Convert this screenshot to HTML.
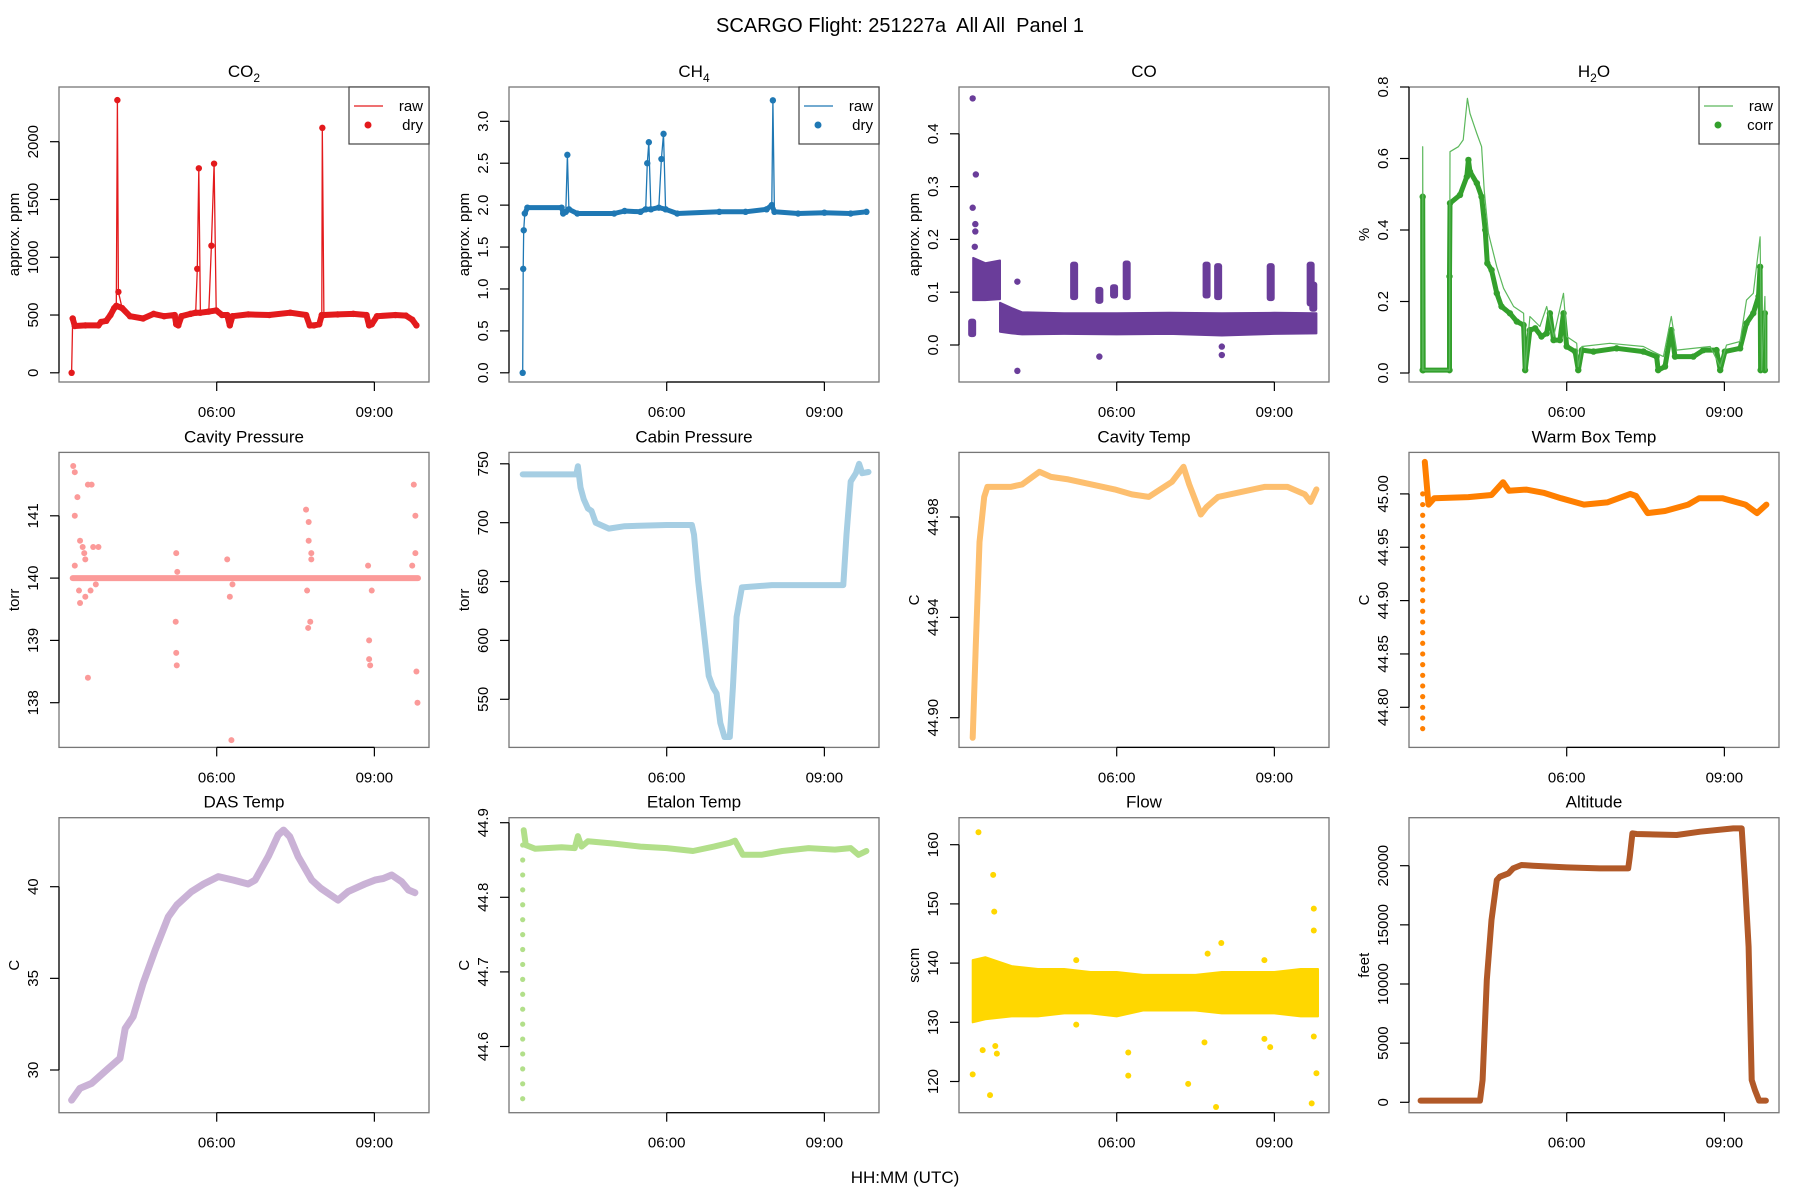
<!DOCTYPE html>
<html><head><meta charset="utf-8"><title>SCARGO Flight Panel 1</title>
<style>
html,body{margin:0;padding:0;background:#fff;}
svg{display:block;font-family:"Liberation Sans",Arial,sans-serif;}
</style></head>
<body>
<svg id="chart" xmlns="http://www.w3.org/2000/svg" width="1800" height="1200" viewBox="0 0 1800 1200">
<rect x="0" y="0" width="1800" height="1200" fill="#fff"/>
<text x="900" y="32" font-size="20" text-anchor="middle" style="white-space:pre" xml:space="preserve">SCARGO Flight: 251227a  All All  Panel 1</text>
<text x="905" y="1183" font-size="17" text-anchor="middle">HH:MM (UTC)</text>
</svg>
<script>
// ---------- data ----------
const xTickLabels = ["06:00","09:00"];
const xTickHours = [6,9];

const co2T = [3.24,3.26,3.3,3.5,3.75,3.8,3.9,3.98,4.05,4.09,4.11,4.13,4.2,4.35,4.6,4.8,5.0,5.2,5.23,5.27,5.33,5.5,5.6,5.63,5.66,5.69,5.85,5.9,5.95,5.99,6.1,6.2,6.25,6.3,6.6,7.0,7.4,7.7,7.77,7.85,7.95,8.0,8.01,8.04,8.3,8.6,8.85,8.9,8.95,9.05,9.4,9.6,9.72,9.8];
const co2V = [0,470,405,410,410,440,450,500,560,580,2360,700,560,490,470,510,490,500,420,410,490,510,520,900,1770,520,530,1100,1810,540,500,500,410,490,505,500,520,500,410,410,420,500,2120,500,505,510,500,410,420,490,500,495,460,410];

const ch4T = [3.26,3.27,3.28,3.3,3.35,4.0,4.03,4.08,4.11,4.14,4.3,5.0,5.2,5.5,5.6,5.63,5.66,5.7,5.85,5.9,5.94,5.98,6.2,7.0,7.5,7.9,8.0,8.02,8.05,8.5,9.0,9.5,9.8];
const ch4V = [0,1.24,1.7,1.9,1.97,1.97,1.9,1.92,2.6,1.95,1.9,1.9,1.93,1.92,1.95,2.5,2.75,1.95,1.97,2.55,2.85,1.95,1.9,1.92,1.92,1.95,2.0,3.25,1.92,1.9,1.91,1.9,1.92];

const coBandT = [3.78,4.0,4.2,5.0,6.0,7.0,8.0,9.0,9.8];
const coBandLo = [0.025,0.022,0.02,0.021,0.02,0.021,0.018,0.021,0.022];
const coBandHi = [0.08,0.07,0.062,0.06,0.06,0.061,0.06,0.061,0.06];
const coEarlyT = [3.27,3.5,3.78];
const coEarlyLo = [0.085,0.085,0.087];
const coEarlyHi = [0.165,0.155,0.16];
const coBlockT = [3.25,5.19,5.67,5.95,6.19,7.71,7.93,8.93,9.69,9.74];
const coBlockLo = [0.015,0.085,0.078,0.088,0.085,0.088,0.085,0.083,0.073,0.063];
const coBlockHi = [0.05,0.158,0.11,0.115,0.16,0.158,0.155,0.155,0.158,0.12];
const coOutT = [3.26,3.32,3.26,3.31,3.31,3.3,4.11,4.11,5.67,8.0,8.0,5.95];
const coOutV = [0.467,0.323,0.26,0.229,0.215,0.186,0.12,-0.049,-0.022,-0.019,-0.003,0.1];

const h2oCorrT = [3.26,3.26,3.27,3.77,3.77,3.78,3.97,4.10,4.13,4.16,4.29,4.38,4.45,4.49,4.57,4.67,4.76,4.92,5.05,5.18,5.21,5.30,5.40,5.52,5.62,5.68,5.75,5.87,5.94,6.00,6.16,6.22,6.29,6.51,6.95,7.46,7.71,7.74,7.87,7.99,8.06,8.41,8.60,8.85,8.92,9.01,9.30,9.42,9.55,9.65,9.68,9.69,9.77,9.77];
const h2oCorrV = [0.008,0.493,0.008,0.008,0.27,0.475,0.498,0.549,0.596,0.563,0.531,0.493,0.40,0.307,0.288,0.223,0.186,0.167,0.144,0.134,0.008,0.12,0.125,0.102,0.111,0.167,0.092,0.092,0.167,0.074,0.06,0.008,0.064,0.06,0.069,0.06,0.046,0.008,0.018,0.12,0.046,0.046,0.064,0.064,0.008,0.06,0.069,0.139,0.167,0.214,0.297,0.008,0.167,0.008];
const h2oRawT = [3.26,3.26,3.27,3.77,3.78,3.94,4.03,4.11,4.16,4.29,4.38,4.43,4.51,4.67,4.80,4.99,5.18,5.21,5.30,5.49,5.62,5.75,5.94,6.00,6.19,6.22,6.29,6.82,7.46,7.71,7.84,7.99,8.09,8.73,8.92,9.04,9.30,9.42,9.55,9.68,9.71,9.77,9.79];
const h2oRawV = [0.008,0.633,0.008,0.008,0.619,0.633,0.652,0.768,0.726,0.67,0.633,0.512,0.391,0.297,0.237,0.186,0.167,0.008,0.158,0.13,0.186,0.102,0.223,0.102,0.083,0.018,0.074,0.083,0.074,0.055,0.046,0.158,0.064,0.074,0.018,0.078,0.088,0.204,0.223,0.381,0.008,0.214,0.008];

const cavPLineT = [3.26,9.83];
const cavPLineV = [140.0,140.0];
const cavPOutT = [3.27,3.3,3.35,3.3,3.4,3.45,3.5,3.55,3.62,3.65,3.4,3.5,3.6,3.55,3.7,3.75,3.3,3.38,3.48,5.23,5.22,5.23,5.24,5.25,6.2,6.25,6.28,6.3,7.7,7.75,7.75,7.8,7.72,7.78,7.74,7.8,8.88,8.9,8.92,8.95,8.9,9.75,9.78,9.72,9.8,9.82,9.78];
const cavPOutV = [141.8,141.7,141.3,141.0,140.6,140.5,140.3,141.5,141.5,140.5,139.6,139.7,139.8,138.4,139.9,140.5,140.2,139.8,140.4,140.4,139.3,138.8,138.6,140.1,140.3,139.7,137.4,139.9,141.1,140.9,140.6,140.3,139.8,139.3,139.2,140.4,140.2,139.0,138.6,139.8,138.7,141.5,141.0,140.2,138.5,138.0,140.4];

const cabinT = [3.26,4.28,4.31,4.36,4.42,4.5,4.57,4.65,4.9,5.2,6.0,6.48,6.52,6.6,6.7,6.8,6.88,6.95,7.02,7.1,7.2,7.26,7.33,7.43,8.0,9.0,9.36,9.42,9.5,9.6,9.66,9.72,9.84];
const cabinV = [741,741,748,730,720,712,710,700,695,697,698,698,690,650,610,570,560,555,530,518,518,560,620,645,647,647,647,690,735,742,750,742,743];

const cavTT = [3.26,3.32,3.39,3.48,3.54,3.98,4.20,4.53,4.75,5.08,5.52,5.96,6.29,6.61,6.83,7.05,7.27,7.38,7.60,7.71,7.93,8.37,8.81,9.25,9.58,9.69,9.80];
const cavTV = [44.892,44.929,44.970,44.988,44.992,44.992,44.993,44.998,44.996,44.995,44.993,44.991,44.989,44.988,44.991,44.994,45.000,44.993,44.981,44.984,44.988,44.990,44.992,44.992,44.989,44.986,44.991];

const warmT = [3.30,3.37,3.48,4.13,4.57,4.79,4.90,5.23,5.56,5.89,6.33,6.77,7.21,7.32,7.54,7.87,8.31,8.52,8.96,9.40,9.62,9.80];
const warmV = [45.03,44.99,44.996,44.997,44.999,45.011,45.003,45.004,45.001,44.996,44.99,44.992,45.0,44.998,44.982,44.984,44.990,44.996,44.996,44.990,44.982,44.990];
const warmStartV = [44.78,44.79,44.80,44.81,44.82,44.83,44.84,44.85,44.86,44.87,44.88,44.89,44.90,44.91,44.92,44.93,44.94,44.95,44.96,44.97,44.98,44.99,45.0];

const dasT = [3.24,3.40,3.62,3.94,4.16,4.26,4.41,4.60,4.83,5.08,5.24,5.52,5.75,6.03,6.32,6.60,6.73,6.98,7.17,7.27,7.39,7.55,7.81,7.98,8.31,8.50,8.82,9.01,9.17,9.33,9.52,9.65,9.77];
const dasV = [28.36,29.0,29.27,30.09,30.64,32.27,32.91,34.73,36.55,38.36,39.0,39.73,40.15,40.55,40.36,40.15,40.36,41.64,42.82,43.09,42.73,41.64,40.36,39.91,39.27,39.73,40.15,40.36,40.45,40.64,40.27,39.82,39.67];

const etalonT = [3.28,3.32,3.5,4.0,4.25,4.31,4.38,4.5,5.0,5.5,6.0,6.5,6.9,7.2,7.3,7.45,7.8,8.2,8.7,9.2,9.5,9.65,9.8];
const etalonV = [44.89,44.87,44.865,44.867,44.866,44.882,44.868,44.875,44.872,44.868,44.866,44.862,44.868,44.873,44.876,44.857,44.857,44.862,44.866,44.864,44.866,44.857,44.862];
const etalonStartV = [44.53,44.55,44.57,44.59,44.61,44.63,44.65,44.67,44.69,44.71,44.73,44.75,44.77,44.79,44.81,44.83,44.85,44.87];

const flowBandT = [3.26,3.5,4.0,4.5,5.0,5.5,6.0,6.5,7.0,7.5,8.0,8.5,9.0,9.5,9.83];
const flowBandLo = [130,130.5,131,131,131.5,131.5,131,132,132,132,131.5,131.5,131.5,131,131];
const flowBandHi = [140.5,141,139.5,139,139,138.5,138.5,138,138,138,138.5,138.5,138.5,139,139];
const flowOutT = [3.37,3.65,3.67,3.45,3.69,3.72,3.59,3.26,5.23,5.23,6.22,6.22,7.36,7.67,7.89,7.73,7.99,8.81,8.92,8.81,9.75,9.75,9.75,9.8,9.71];
const flowOutV = [162.1,154.9,148.7,125.3,126,124.7,117.7,121.2,140.5,129.6,124.9,121,119.6,126.6,115.7,141.6,143.4,140.5,125.8,127.2,149.2,145.5,127.6,121.4,116.3];

const altT = [3.22,4.35,4.40,4.48,4.57,4.67,4.73,4.89,4.98,5.14,5.36,6.0,6.63,7.17,7.20,7.25,7.33,8.09,8.54,9.17,9.33,9.39,9.46,9.52,9.58,9.66,9.79];
const altV = [141,141,1887,10338,15409,18789,19071,19353,19775,20057,20000,19860,19775,19775,20761,22733,22677,22592,22874,23156,23156,18789,13155,1887,1042,141,141];

const co2Ticks = [0,500,1000,1500,2000];
const ch4Ticks = [0,0.5,1,1.5,2,2.5,3];
const coTicks = [0,0.1,0.2,0.3,0.4];
const h2oTicks = [0,0.2,0.4,0.6,0.8];
const cavPTicks = [138,139,140,141];
const cabinTicks = [550,600,650,700,750];
const cavTTicks = [44.90,44.94,44.98];
const warmTicks = [44.80,44.85,44.90,44.95,45.00];
const dasTicks = [30,35,40];
const etalonTicks = [44.6,44.7,44.8,44.9];
const flowTicks = [120,130,140,150,160];
const altTicks = [0,5000,10000,15000,20000];

// ---------- drawing ----------
const NS = "http://www.w3.org/2000/svg";
const svg = document.getElementById("chart");
const COL = [59,509,959,1409], ROW = [87,452.4,817.7], PW = 370, PH = 295;

function mk(tag, attrs, parent){
  const e = document.createElementNS(NS, tag);
  for (const k in attrs) e.setAttribute(k, attrs[k]);
  (parent||svg).appendChild(e);
  return e;
}
function xScale(c){ return t => COL[c] + 157.7 + (t-6)*52.56; }
function yScale(v0,y0,v1,y1){ return v => y0 + (v-v0)*(y1-y0)/(v1-v0); }
function fmt(v, d){ return d==null ? String(v) : v.toFixed(d); }

function panel(c, r, title, sub, after, ylab, ticks, dec, ys, name){
  const g = mk("g", {});
  
  
  const L = COL[c], T = ROW[r];
  const box = mk("rect", {x:L, y:T, width:PW, height:PH, fill:"none", stroke:"#777", "stroke-width":1.3}, g);
  
  
  const tt = mk("text", {x:L+PW/2, y:T-10, "font-size":17, "text-anchor":"middle"}, g);
  
  
  tt.appendChild(document.createTextNode(title));
  if (sub){
    const ts = mk("tspan", {"font-size":12, dy:5}, tt);
    ts.textContent = sub;
    if (after){
      const ta = mk("tspan", {dy:-5}, tt);
      ta.textContent = after;
    }
  }
  const xs = xScale(c);
  const xa = mk("line", {x1:xs(xTickHours[0]), x2:xs(xTickHours[xTickHours.length-1]), y1:T+PH, y2:T+PH, stroke:"#000", "stroke-width":1.2}, g);
  
  
  xTickHours.forEach((h,i)=>{
    mk("line", {x1:xs(h), x2:xs(h), y1:T+PH, y2:T+PH+9, stroke:"#000", "stroke-width":1.2}, g);
    const lb = mk("text", {x:xs(h), y:T+PH+35, "font-size":15, "text-anchor":"middle"}, g);
    
    
    lb.textContent = xTickLabels[i];
  });
  const ya = mk("line", {x1:L, x2:L, y1:ys(ticks[0]), y2:ys(ticks[ticks.length-1]), stroke:"#000", "stroke-width":1.2}, g);
  
  
  ticks.forEach(v=>{
    const y = ys(v);
    mk("line", {x1:L-9, x2:L, y1:y, y2:y, stroke:"#000", "stroke-width":1.2}, g);
    const lb = mk("text", {x:L-21, y:y, "font-size":15, "text-anchor":"middle", transform:`rotate(-90 ${L-21} ${y})`}, g);
    
    
    lb.textContent = fmt(v, dec);
  });
  const yl = mk("text", {x:L-40, y:T+PH/2, "font-size":15, "text-anchor":"middle", transform:`rotate(-90 ${L-40} ${T+PH/2})`}, g);
  
  
  yl.textContent = ylab;
  return {g, xs, ys};
}
function line(p, T, V, color, w, name){
  const d = T.map((t,i)=>(i?"L":"M")+p.xs(t).toFixed(1)+" "+p.ys(V[i]).toFixed(1)).join(" ");
  const e = mk("path", {d, fill:"none", stroke:color, "stroke-width":w, "stroke-linejoin":"round", "stroke-linecap":"round"}, p.g);
  
  
  return e;
}
function dots(p, T, V, color, r, name){
  T.forEach((t,i)=>{
    const e = mk("circle", {cx:p.xs(t), cy:p.ys(V[i]), r, fill:color}, p.g);
    
    
  });
}
function band(p, T, lo, hi, color, name){
  const up = T.map((t,i)=>p.xs(t).toFixed(1)+","+p.ys(hi[i]).toFixed(1));
  const dn = T.map((t,i)=>p.xs(t).toFixed(1)+","+p.ys(lo[i]).toFixed(1)).reverse();
  const e = mk("polygon", {points:up.concat(dn).join(" "), fill:color, stroke:color, "stroke-width":2, "stroke-linejoin":"round"}, p.g);
  
  
}
function blocks(p, T, lo, hi, color, name){
  T.forEach((t,i)=>{
    const y1 = p.ys(hi[i]), y2 = p.ys(lo[i]);
    const e = mk("rect", {x:p.xs(t)-4, y:Math.min(y1,y2), width:8, height:Math.abs(y2-y1), rx:3, fill:color}, p.g);
    
    
  });
}
function legend(p, c, l1, l2, color, lineColor){
  const L = COL[c]+PW-80, T = ROW[0];
  const lg = mk("g", {}, p.g);
  
  
  mk("rect", {x:L, y:T, width:80, height:57, fill:"#fff", stroke:"#444", "stroke-width":1.2}, lg);
  mk("line", {x1:L+5, x2:L+34, y1:T+19, y2:T+19, stroke:lineColor, "stroke-width":1.3}, lg);
  mk("circle", {cx:L+19, cy:T+38, r:3.5, fill:color}, lg);
  const a = mk("text", {x:L+74, y:T+24, "font-size":15, "text-anchor":"end"}, lg);
  
  
  a.textContent = l1;
  const b = mk("text", {x:L+74, y:T+43, "font-size":15, "text-anchor":"end"}, lg);
  
  
  b.textContent = l2;
}

// CO2
let p = panel(0,0,"CO","2",null,"approx. ppm",co2Ticks,null,yScale(0,372.8,2000,141.7),"co2");
line(p, co2T, co2V, "#e31a1c", 1.3, "co2-raw-line");
dots(p, co2T, co2V, "#e31a1c", 3.2, "co2-dry-point");
(function(){
  const T=[],V=[]; co2T.forEach((t,i)=>{ if(co2V[i]<650 && co2V[i]>300){T.push(t);V.push(co2V[i]);} });
  line(p, T, V, "#e31a1c", 6, "co2-dry-series");
})();
legend(p, 0, "raw", "dry", "#e31a1c", "#e31a1c");

// CH4
p = panel(1,0,"CH","4",null,"approx. ppm",ch4Ticks,1,yScale(0,372.8,3,121.3),"ch4");
line(p, ch4T, ch4V, "#1f78b4", 1.3, "ch4-raw-line");
dots(p, ch4T, ch4V, "#1f78b4", 3.2, "ch4-dry-point");
(function(){
  const T=[],V=[]; ch4T.forEach((t,i)=>{ if(ch4V[i]<2.1 && ch4V[i]>1.85){T.push(t);V.push(ch4V[i]);} });
  line(p, T, V, "#1f78b4", 5, "ch4-dry-series");
})();
legend(p, 1, "raw", "dry", "#1f78b4", "#1f78b4");

// CO
p = panel(2,0,"CO",null,null,"approx. ppm",coTicks,1,yScale(0,345,0.4,133.8),"co");
band(p, coBandT, coBandLo, coBandHi, "#6a3d9a", "co-band");
band(p, coEarlyT, coEarlyLo, coEarlyHi, "#6a3d9a", "co-early-band");
blocks(p, coBlockT, coBlockLo, coBlockHi, "#6a3d9a", "co-spike-block");
dots(p, coOutT, coOutV, "#6a3d9a", 3.2, "co-point");

// H2O
p = panel(3,0,"H","2","O","%",h2oTicks,1,yScale(0,373,0.8,87),"h2o");
line(p, h2oCorrT, h2oCorrV, "#33a02c", 5, "h2o-corr-series");
dots(p, h2oCorrT, h2oCorrV, "#33a02c", 3.2, "h2o-corr-point");
line(p, h2oRawT, h2oRawV, "#5cb85c", 1.2, "h2o-raw-line");
legend(p, 3, "raw", "corr", "#33a02c", "#5cb85c");

// Cavity pressure
p = panel(0,1,"Cavity Pressure",null,null,"torr",cavPTicks,null,yScale(138,702.7,141,515.8),"cavity-pressure");
line(p, cavPLineT, cavPLineV, "#fb9a99", 6, "cavity-pressure-series");
dots(p, cavPOutT, cavPOutV, "#fb9a99", 3, "cavity-pressure-point");

// Cabin pressure
p = panel(1,1,"Cabin Pressure",null,null,"torr",cabinTicks,null,yScale(550,699.3,750,463.8),"cabin-pressure");
line(p, cabinT, cabinV, "#a6cee3", 6, "cabin-pressure-series");

// Cavity temp
p = panel(2,1,"Cavity Temp",null,null,"C",cavTTicks,2,yScale(44.90,717.7,44.98,517),"cavity-temp");
line(p, cavTT, cavTV, "#fdbf6f", 6, "cavity-temp-series");

// Warm box temp
p = panel(3,1,"Warm Box Temp",null,null,"C",warmTicks,2,yScale(44.80,707.3,45.00,493.9),"warm-box-temp");
dots(p, warmStartV.map(()=>3.26), warmStartV, "#ff7f00", 2.6, "warm-box-temp-point");
line(p, warmT, warmV, "#ff7f00", 6, "warm-box-temp-series");

// DAS temp
p = panel(0,2,"DAS Temp",null,null,"C",dasTicks,null,yScale(30,1070,40,886.7),"das-temp");
line(p, dasT, dasV, "#cab2d6", 7, "das-temp-series");

// Etalon temp
p = panel(1,2,"Etalon Temp",null,null,"C",etalonTicks,1,yScale(44.6,1046.5,44.9,822.7),"etalon-temp");
dots(p, etalonStartV.map(()=>3.26), etalonStartV, "#b2df8a", 2.6, "etalon-temp-point");
line(p, etalonT, etalonV, "#b2df8a", 6, "etalon-temp-series");

// Flow
p = panel(2,2,"Flow",null,null,"sccm",flowTicks,null,yScale(120,1081.5,160,844.7),"flow");
band(p, flowBandT, flowBandLo, flowBandHi, "#ffd700", "flow-band");
dots(p, flowOutT, flowOutV, "#ffd700", 3, "flow-point");

// Altitude
p = panel(3,2,"Altitude",null,null,"feet",altTicks,null,yScale(0,1102.3,20000,865.7),"altitude");
line(p, altT, altV, "#b15928", 6, "altitude-series");
</script>
</body></html>
